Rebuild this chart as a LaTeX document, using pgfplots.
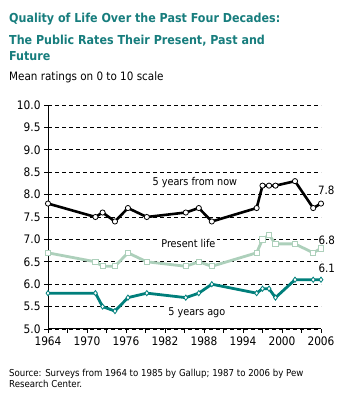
\documentclass[border=0pt]{standalone}
\usepackage{fontspec}
\setmainfont{DejaVu Sans Condensed}
\usepackage{pgfplots}
\pgfplotsset{compat=1.18}
\definecolor{tealtitle}{HTML}{177D7D}
\definecolor{tealline}{HTML}{007F7B}
\definecolor{lightg}{HTML}{ADD0BB}
\pgfplotstableread{
x y
1964 7.8
1971.3 7.5
1972.4 7.6
1974.3 7.4
1976.3 7.7
1979.2 7.5
1985.2 7.6
1987.2 7.7
1989.2 7.4
1996.1 7.7
1997.0 8.2
1998.0 8.2
1999.0 8.2
2002.0 8.3
2004.8 7.7
2006 7.8
}\future
\pgfplotstableread{
x y
1964 6.7
1971.3 6.5
1972.4 6.4
1974.3 6.4
1976.3 6.7
1979.2 6.5
1985.2 6.4
1987.2 6.5
1989.2 6.4
1996.1 6.7
1997.0 7.0
1998.0 7.1
1999.0 6.9
2002.0 6.9
2004.8 6.7
2006 6.8
}\present
\pgfplotstableread{
x y
1964 5.8
1971.3 5.8
1972.4 5.5
1974.3 5.4
1976.3 5.7
1979.2 5.8
1985.2 5.7
1987.2 5.8
1989.2 6.0
1996.1 5.8
1997.0 5.9
1998.0 5.9
1999.0 5.7
2002.0 6.1
2004.8 6.1
2006 6.1
}\past
\begin{document}
\begin{tikzpicture}[x=1bp,y=1bp]
\path[use as bounding box] (0,0) rectangle (347,406);
\node[anchor=base west, inner sep=0, text=tealtitle, font=\fontsize{12.4}{15}\selectfont\bfseries] at (9,406-22) {Quality of Life Over the Past Four Decades:};
\node[anchor=base west, inner sep=0, text=tealtitle, font=\fontsize{12.4}{15}\selectfont\bfseries] at (9,406-44) {The Public Rates Their Present, Past and};
\node[anchor=base west, inner sep=0, text=tealtitle, font=\fontsize{12.4}{15}\selectfont\bfseries] at (9,406-60.5) {Future};
\node[anchor=base west, inner sep=0, font=\fontsize{11.6}{13}\selectfont] at (9,406-80) {Mean ratings on 0 to 10 scale};
\node[anchor=base west, inner sep=0, font=\fontsize{9.6}{11}\selectfont] at (9,406-376) {Source: Surveys from 1964 to 1985 by Gallup; 1987 to 2006 by Pew};
\node[anchor=base west, inner sep=0, font=\fontsize{9.6}{11}\selectfont] at (9,406-387) {Research Center.};
\begin{axis}[
  at={(48bp,77bp)}, anchor=south west,
  scale only axis, width=273bp, height=224bp,
  xmin=1964, xmax=2006, ymin=5, ymax=10,
  axis x line*=bottom, axis y line*=left,
  xtick={1964,1970,...,2006}, minor xtick={1967,1973,...,2003},
  ytick={5,5.5,...,10},
  yticklabel style={/pgf/number format/.cd, fixed, fixed zerofill, precision=1},
  /pgf/number format/assume math mode=true,
  xticklabel style={/pgf/number format/1000 sep={}},
  ymajorgrids,
  grid style={black, dash pattern=on 4bp off 3bp, line width=0.8bp},
  tick align=outside, major tick length=4bp, minor tick length=4bp,
  tick style={black, line width=0.8bp},
  axis line style={black, line width=1bp},
  tick label style={font=\fontsize{11.8}{13}\selectfont},
  clip=false,
]
\addplot[color=black, line width=2.6bp, mark=*, mark size=2.6bp, mark options={fill=white, draw=black, line width=0.8bp}] table[x=x,y=y] {\future};
\addplot[color=lightg, line width=2.8bp, mark=square*, mark size=2.6bp, mark options={fill=white, draw=lightg, line width=0.9bp}] table[x=x,y=y] {\present};
\addplot[color=tealline, line width=2.8bp, mark=diamond*, mark size=2.6bp, mark options={fill=white, draw=tealline, line width=0.8bp}] table[x=x,y=y] {\past};
\node[fill=white, inner sep=1.5bp, font=\fontsize{10.8}{12}\selectfont] at (axis cs:1986.6,8.28) {5 years from now};
\node[fill=white, inner sep=1.5bp, font=\fontsize{10.8}{12}\selectfont] at (axis cs:1985.6,6.91) {Present life};
\node[fill=white, inner sep=1.5bp, font=\fontsize{10.8}{12}\selectfont] at (axis cs:1986.9,5.37) {5 years ago};
\node[inner sep=0, font=\fontsize{11.5}{12}\selectfont] at (axis cs:2006.8,8.10) {7.8};
\node[inner sep=0, font=\fontsize{11.5}{12}\selectfont] at (axis cs:2006.9,6.99) {6.8};
\node[inner sep=0, font=\fontsize{11.5}{12}\selectfont] at (axis cs:2006.9,6.35) {6.1};
\end{axis}
\end{tikzpicture}
\end{document}
